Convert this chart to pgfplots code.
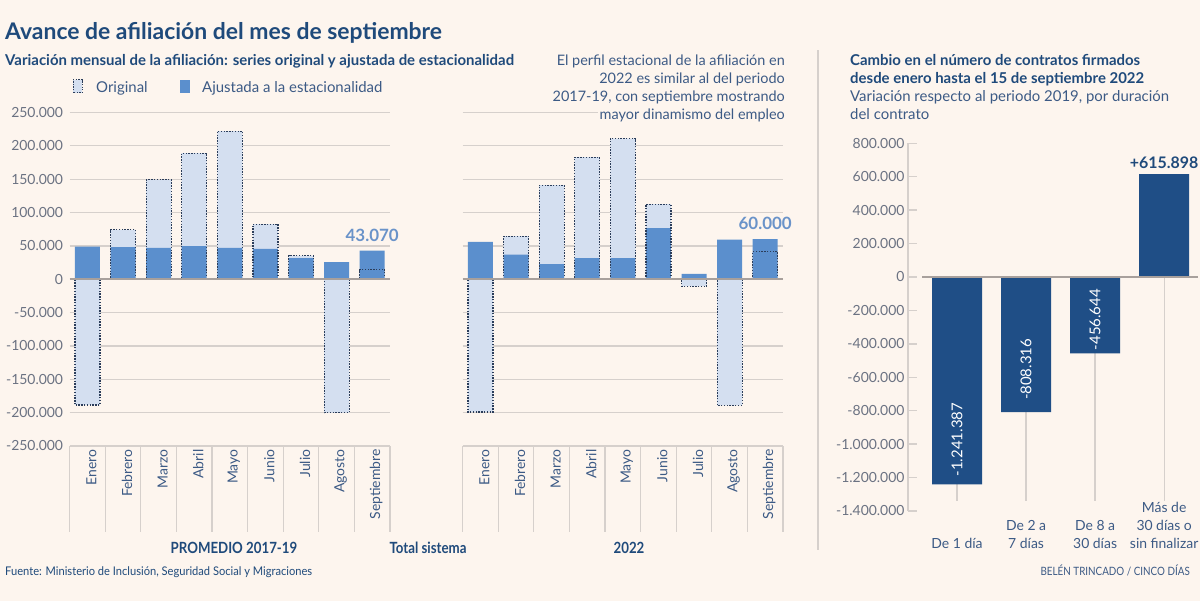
\documentclass[border=0pt]{standalone}
\usepackage{pgfplots}
\usepackage{pgfplotstable}
\pgfplotsset{compat=1.18}
\usepackage{fontspec}
\setmainfont{Lato}
\newfontfamily\condfont[FakeStretch=0.86]{Lato}
\newfontfamily\semicondfont[FakeStretch=0.93]{Lato}
\definecolor{bgc}{HTML}{FDF5EE}
\definecolor{adjc}{HTML}{5B8FCD}
\definecolor{origc}{HTML}{D4DFF0}
\definecolor{dotc}{HTML}{2B3D5A}
\definecolor{darkb}{HTML}{1F4A7B}
\definecolor{barr}{HTML}{1F4E86}
\definecolor{txtc}{HTML}{3C5A85}
\definecolor{tickc}{HTML}{6B7282}
\definecolor{gridc}{HTML}{D6D0CC}
\definecolor{zeroc}{HTML}{A8A09C}
\definecolor{lblc}{HTML}{6A93C9}

\pgfplotstableread{
x orig adj
0 -188500 49000
1 74000 48000
2 149000 47000
3 189000 49500
4 222000 47000
5 82500 45500
6 35000 31500
7 -200000 25500
8 14500 43070
}\tablepromedio
\pgfplotstableread{
x orig adj
0 -199000 56000
1 64500 37000
2 141000 22500
3 183000 31500
4 211000 31500
5 112500 76500
6 -10500 8000
7 -189000 59500
8 41000 60000
}\tabledosmil
\pgfplotstableread{
x val guide
0 -1241387 -1340000
1 -808316 -1340000
2 -456644 -1340000
3 615898 -1340000
}\tablecontratos

\pgfplotsset{
  monthaxis/.style={
    scale only axis, width=320.4bp, height=333.5bp,
    xmin=-0.5, xmax=8.5, ymin=-250000, ymax=250000,
    clip=false, scaled y ticks=false,
    axis line style={draw=none},
    ytick={-250000,-200000,-150000,-100000,-50000,0,50000,100000,150000,200000,250000},
    ymajorgrids, grid style={draw=gridc, line width=1.3bp},
    major tick length=0pt,
    xtick={0,1,2,3,4,5,6,7,8},
    xticklabels={Enero,Febrero,Marzo,Abril,Mayo,Junio,Julio,Agosto,Septiembre},
    xticklabel style={rotate=90, anchor=east, font=\fontsize{14}{14}\selectfont, text=txtc, yshift=-4bp},
    minor xtick={-0.5,0.5,1.5,2.5,3.5,4.5,5.5,6.5,7.5,8.5},
    minor tick length=86bp, tick align=outside,
    minor tick style={draw=gridc, line width=1.3bp},
    tick pos=left,
    ybar, bar width=25bp,
  },
  origfill/.style={fill=origc, draw=none, bar shift=0pt},
  adjfill/.style={fill=adjc, draw=none, bar shift=0pt},
  origline/.style={fill=none, draw=dotc, line width=1.2bp, dash pattern=on 1.4bp off 1.4bp, bar shift=0pt},
}

\begin{document}
\begin{tikzpicture}[x=1bp,y=1bp]
\path[use as bounding box] (0,0) rectangle (1200,601);
\fill[bgc] (0,0) rectangle (1200,601);

% titles
\node[anchor=base west, inner sep=0, text=darkb, font=\fontsize{23}{23}\selectfont\bfseries] at (5,561) {Avance de afiliación del mes de septiembre};
\node[anchor=base west, inner sep=0, text=darkb, font=\fontsize{15}{15}\selectfont\bfseries] at (5,535) {Variación mensual de la afiliación: series original y ajustada de estacionalidad};

% legend
\filldraw[fill=origc, draw=dotc, line width=1bp, dash pattern=on 1.3bp off 1.3bp] (73,508) rectangle (82,521);
\node[anchor=base west, inner sep=0, text=txtc, font=\fontsize{15}{15}\selectfont] at (96,508) {Original};
\fill[adjc] (180,508) rectangle (190,521);
\node[anchor=base west, inner sep=0, text=txtc, font=\fontsize{15}{15}\selectfont] at (202,508) {Ajustada a la estacionalidad};

% left chart
\begin{axis}[monthaxis, at={(69.6bp,155bp)}, anchor=south west,
  yticklabels={-250.000,-200.000,-150.000,-100.000,-50.000,0,50.000,100.000,150.000,200.000,250.000},
  yticklabel style={font=\fontsize{14}{14}\selectfont, text=tickc, xshift=-3bp}]
\addplot[origfill] table[x=x,y=orig]{\tablepromedio};
\addplot[adjfill] table[x=x,y=adj]{\tablepromedio};
\addplot[origline] table[x=x,y=orig]{\tablepromedio};
\draw[zeroc, line width=1.5bp] (axis cs:-0.5,0) -- (axis cs:8.5,0);
\node[anchor=south, inner sep=0, text=lblc, font=\fontsize{17}{17}\selectfont\bfseries] at ([yshift=9bp]axis cs:8,43070) {43.070};
\end{axis}

% annotation (covers gridline)
\node[anchor=base east, inner sep=2bp, fill=bgc, text=txtc, font=\fontsize{14.5}{14.5}\selectfont] at (787,535) {El perfil estacional de la afiliación en};
\node[anchor=base east, inner sep=2bp, fill=bgc, text=txtc, font=\fontsize{14.5}{14.5}\selectfont] at (787,517) {2022 es similar al del periodo};
\node[anchor=base east, inner sep=2bp, fill=bgc, text=txtc, font=\fontsize{14.5}{14.5}\selectfont] at (787,499) {2017-19, con septiembre mostrando};

% middle chart
\begin{axis}[monthaxis, at={(462.6bp,155bp)}, anchor=south west, yticklabels={}]
\addplot[origfill] table[x=x,y=orig]{\tabledosmil};
\addplot[adjfill] table[x=x,y=adj]{\tabledosmil};
\addplot[origline] table[x=x,y=orig]{\tabledosmil};
\draw[zeroc, line width=1.5bp] (axis cs:-0.5,0) -- (axis cs:8.5,0);
\node[anchor=south, inner sep=0, text=lblc, font=\fontsize{17}{17}\selectfont\bfseries] at ([yshift=9bp]axis cs:8,60000) {60.000};
\end{axis}
\node[anchor=base east, inner sep=2bp, fill=bgc, text=txtc, font=\fontsize{14.5}{14.5}\selectfont] at (787,481) {mayor dinamismo del empleo};

% group labels
\node[anchor=base, inner sep=0, text=darkb, font=\condfont\fontsize{15.5}{15.5}\selectfont\bfseries] at (234,47) {PROMEDIO 2017-19};
\node[anchor=base, inner sep=0, text=darkb, font=\condfont\fontsize{15.5}{15.5}\selectfont\bfseries] at (428,47) {Total sistema};
\node[anchor=base, inner sep=0, text=darkb, font=\condfont\fontsize{15.5}{15.5}\selectfont\bfseries] at (629,47) {2022};
\node[anchor=base west, inner sep=0, text=darkb, font=\semicondfont\fontsize{12}{12}\selectfont] at (5,25) {Fuente: Ministerio de Inclusión, Seguridad Social y Migraciones};
\node[anchor=base east, inner sep=0, text=txtc, font=\condfont\fontsize{11.5}{11.5}\selectfont] at (1190,25) {BELÉN TRINCADO / CINCO DÍAS};

% divider
\draw[gridc, line width=1.3bp] (818,51) -- (818,551);

% right titles
\node[anchor=base west, inner sep=0, text=darkb, font=\fontsize{15}{15}\selectfont\bfseries] at (850,535) {Cambio en el número de contratos firmados};
\node[anchor=base west, inner sep=0, text=darkb, font=\fontsize{15}{15}\selectfont\bfseries] at (850,517) {desde enero hasta el 15 de septiembre 2022};
\node[anchor=base west, inner sep=0, text=txtc, font=\fontsize{15}{15}\selectfont] at (850,499) {Variación respecto al periodo 2019, por duración};
\node[anchor=base west, inner sep=0, text=txtc, font=\fontsize{15}{15}\selectfont] at (850,481) {del contrato};

% right chart
\begin{axis}[at={(908bp,90bp)}, anchor=south west,
  scale only axis, width=290bp, height=367.7bp,
  xmin=-0.71, xmax=3.49, ymin=-1400000, ymax=800000,
  clip=false, scaled y ticks=false,
  axis x line*=bottom, axis y line*=left,
  x axis line style={draw=none},
  y axis line style={draw=gridc, line width=1.3bp},
  xtick=\empty,
  ytick={-1400000,-1200000,-1000000,-800000,-600000,-400000,-200000,0,200000,400000,600000,800000},
  yticklabels={-1.400.000,-1.200.000,-1.000.000,-800.000,-600.000,-400.000,-200.000,0,200.000,400.000,600.000,800.000},
  yticklabel style={font=\fontsize{14}{14}\selectfont, text=tickc},
  tick align=inside, major tick length=9bp,
  ytick style={draw=gridc, line width=1.3bp},
]
\addplot[ycomb, draw=gridc, line width=1.3bp, mark=none] table[x=x,y=guide]{\tablecontratos};
\addplot[ybar, bar width=50bp, bar shift=0pt, fill=barr, draw=none] table[x=x,y=val]{\tablecontratos};
\draw[zeroc, line width=1.5bp] (axis cs:-0.507,0) -- (axis cs:3.49,0);
\node[rotate=90, anchor=west, inner sep=0, text=white, font=\fontsize{15}{15}\selectfont] at ([yshift=8bp]axis cs:0,-1241387) {-1.241.387};
\node[rotate=90, anchor=west, inner sep=0, text=white, font=\fontsize{15}{15}\selectfont] at ([yshift=12bp]axis cs:1,-808316) {-808.316};
\node[rotate=90, anchor=west, inner sep=0, text=white, font=\fontsize{15}{15}\selectfont] at ([yshift=3bp]axis cs:2,-456644) {-456.644};
\node[anchor=south, inner sep=0, text=darkb, font=\fontsize{16}{16}\selectfont\bfseries] at ([yshift=5bp]axis cs:3,615898) {+615.898};
\node[anchor=south, inner sep=0, align=center, text=txtc, font=\fontsize{14}{18}\selectfont] at ([yshift=-37.5bp]axis cs:0,-1400000) {De 1 día};
\node[anchor=south, inner sep=0, align=center, text=txtc, font=\fontsize{14}{18}\selectfont] at ([yshift=-37.5bp]axis cs:1,-1400000) {De 2 a\\7 días};
\node[anchor=south, inner sep=0, align=center, text=txtc, font=\fontsize{14}{18}\selectfont] at ([yshift=-37.5bp]axis cs:2,-1400000) {De 8 a\\30 días};
\node[anchor=south, inner sep=0, align=center, text=txtc, font=\fontsize{14}{18}\selectfont] at ([yshift=-37.5bp]axis cs:3,-1400000) {Más de\\30 días o\\sin finalizar};
\end{axis}
\end{tikzpicture}
\end{document}
